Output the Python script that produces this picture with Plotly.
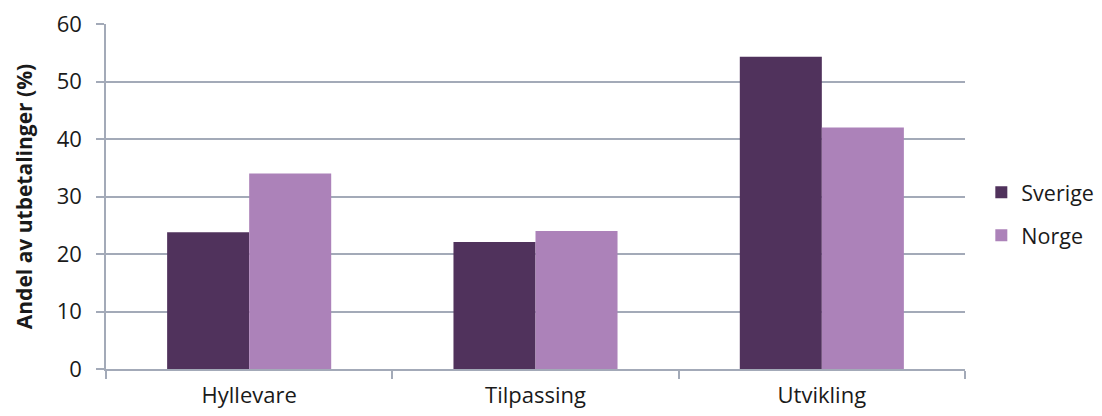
import plotly.graph_objects as go

# Share of payouts by development type, Sweden vs Norway
categories = ["Hyllevare", "Tilpassing", "Utvikling"]
sverige = [23.8, 22.1, 54.3]
norge = [34.0, 24.0, 42.0]

FONT = "Open Sans"
GRID = "#a3aab8"
TEXT = "#1a1a1a"

fig = go.Figure()
fig.add_trace(go.Bar(
    name="Sverige", x=categories, y=sverige,
    marker=dict(color="#50325c", line=dict(width=0)),
    legendgroup="a",
))
fig.add_trace(go.Bar(
    name="Norge", x=categories, y=norge,
    marker=dict(color="#ac82b9", line=dict(width=0)),
    legendgroup="b",
))

fig.update_layout(
    width=1102, height=416,
    margin=dict(l=106, r=137, t=24, b=47, autoexpand=False),
    paper_bgcolor="white", plot_bgcolor="white",
    barmode="group", bargap=0.427, bargroupgap=0,
    font=dict(family=FONT, size=22, color=TEXT),
    legend=dict(
        x=1.019, y=0.45, xanchor="left", yanchor="middle",
        font=dict(family=FONT, size=21.5, color=TEXT),
        tracegroupgap=12, traceorder="grouped",
        itemwidth=30,
    ),
    showlegend=True,
)

fig.update_xaxes(
    showline=True, linecolor=GRID, linewidth=1.5,
    ticks="outside", tickson="boundaries", ticklen=8,
    tickcolor=GRID, tickwidth=1.5,
    tickfont=dict(family=FONT, size=22, color=TEXT),
    ticklabelstandoff=6,
    showgrid=False,
)
fig.update_yaxes(
    range=[0, 60], dtick=10,
    showline=True, linecolor=GRID, linewidth=1.5,
    ticks="outside", ticklen=8, tickcolor=GRID, tickwidth=1.5,
    showgrid=True, gridcolor=GRID, gridwidth=1.5,
    zeroline=False,
    tickfont=dict(family=FONT, size=22, color=TEXT),
    ticklabelstandoff=10,
    title=dict(
        text="<b>Andel av utbetalinger (%)</b>",
        font=dict(family=FONT, size=21, color=TEXT),
        standoff=18,
    ),
)

fig.write_html("out.html")
